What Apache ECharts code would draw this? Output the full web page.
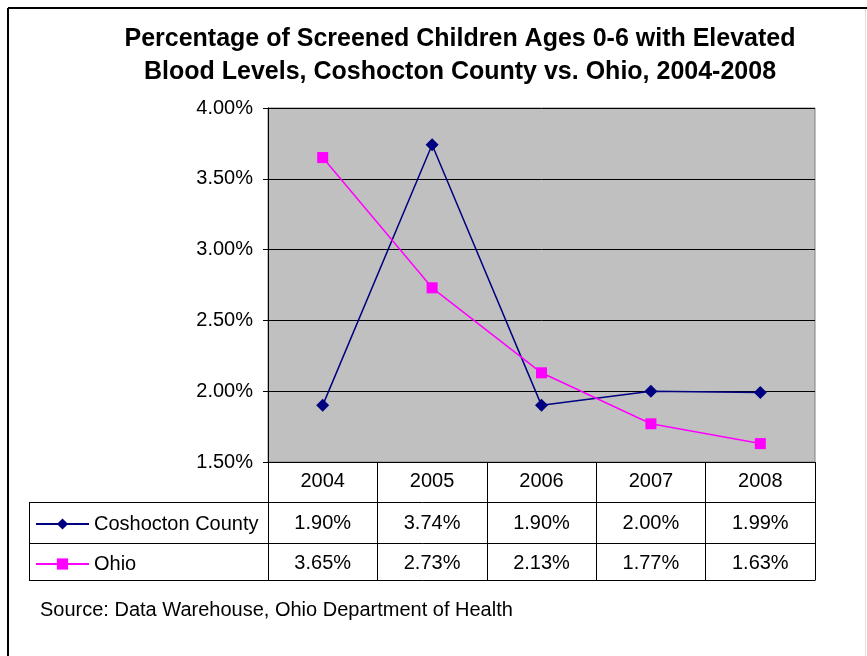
<!DOCTYPE html>
<html>
<head>
<meta charset="utf-8">
<script src="https://cdn.jsdelivr.net/npm/echarts@6/dist/echarts.min.js"></script>
<style>
html,body{margin:0;padding:0;background:#fff;}
#c{width:867px;height:656px;}
</style>
</head>
<body>
<div id="c"></div>
<script>
var years = ['2004','2005','2006','2007','2008'];
var coshocton = [1.90, 3.74, 1.90, 2.00, 1.99];
var ohio = [3.65, 2.73, 2.13, 1.77, 1.63];
var seriesNames = ['Coshocton County', 'Ohio'];
var yMin = 1.5, yMax = 4.0, yStep = 0.5;
var titleText = 'Percentage of Screened Children Ages 0-6 with Elevated\nBlood Levels, Coshocton County vs. Ohio, 2004-2008';
var sourceText = 'Source: Data Warehouse, Ohio Department of Health';

function pct(v){ return v.toFixed(2) + '%'; }
var FONT = 'Arial, "Liberation Sans", sans-serif';

var chart = echarts.init(document.getElementById('c'), null, {renderer:'canvas'});

function tableAxis(offset, arr){
  return {
    type:'category', gridIndex:0, position:'bottom', offset:offset,
    data: years, boundaryGap:true,
    axisLine:{show:false}, axisTick:{show:false}, splitLine:{show:false},
    axisLabel:{show:true, interval:0, margin:9, color:'#000', fontFamily:FONT, fontSize:20,
      formatter:function(v,i){ return pct(arr[i]); }}
  };
}

var xAxes = [
  {
    type:'category', gridIndex:0, position:'bottom', data:years, boundaryGap:true,
    axisLine:{show:true, lineStyle:{color:'#000', width:1}},
    axisTick:{show:true, length:118, interval:0, lineStyle:{color:'#000', width:1}},
    axisLabel:{show:true, interval:0, margin:9, color:'#000', fontFamily:FONT, fontSize:20},
    splitLine:{show:false}
  },
  tableAxis(42, coshocton),
  tableAxis(82, ohio)
];

var L = 29, R = 815, gridLeft = 268;
var hLines = [502, 543, 580];
var graphics = [];
hLines.forEach(function(y){
  graphics.push({type:'line', shape:{x1:L, y1:y+0.5, x2:R+0.5, y2:y+0.5}, style:{stroke:'#000', lineWidth:1}, z:10});
});
graphics.push({type:'line', shape:{x1:L+0.5, y1:502, x2:L+0.5, y2:580.5}, style:{stroke:'#000', lineWidth:1}, z:10});
// outer frame
graphics.push({type:'line', shape:{x1:8, y1:8, x2:867, y2:8}, style:{stroke:'#000', lineWidth:2}, z:10});
graphics.push({type:'line', shape:{x1:8, y1:8, x2:8, y2:656}, style:{stroke:'#000', lineWidth:2}, z:10});
graphics.push({type:'line', shape:{x1:865.5, y1:9, x2:865.5, y2:656}, style:{stroke:'#e0e0e0', lineWidth:1}, z:10});
graphics.push({type:'text', left:40, top:600, style:{text:sourceText, font:'20px ' + FONT, fill:'#000'}, z:10});

chart.setOption({
  animation:false,
  backgroundColor:'#fff',
  title:{
    text:titleText, left:455, top:18, textAlign:'center',
    textStyle:{fontFamily:FONT, fontSize:25, fontWeight:'bold', color:'#000', lineHeight:33}
  },
  legend:{
    orient:'vertical', left:30, top:509, itemWidth:53, itemHeight:14, itemGap:20,
    textStyle:{fontFamily:FONT, fontSize:20, lineHeight:20, color:'#000'},
    data:seriesNames
  },
  grid:{left:gridLeft, right:867-R, top:108, bottom:656-462, show:true, backgroundColor:'#C0C0C0', borderColor:'#808080', borderWidth:1},
  xAxis:xAxes,
  yAxis:{
    type:'value', min:yMin, max:yMax, interval:yStep,
    axisLine:{show:true, lineStyle:{color:'#000', width:1}},
    axisTick:{show:true, length:5, lineStyle:{color:'#000'}},
    axisLabel:{margin:15, color:'#000', fontFamily:FONT, fontSize:20, formatter:function(v){return pct(v);}},
    splitLine:{show:true, lineStyle:{color:'#000', width:1}}
  },
  series:[
    {name:seriesNames[0], type:'line', data:coshocton, xAxisIndex:0, symbol:'diamond', symbolSize:13,
     lineStyle:{color:'#000080', width:1.5}, itemStyle:{color:'#000080'}, z:3},
    {name:seriesNames[1], type:'line', data:ohio, xAxisIndex:0, symbol:'rect', symbolSize:11,
     lineStyle:{color:'#FF00FF', width:1.5}, itemStyle:{color:'#FF00FF'}, z:4}
  ],
  graphic:graphics
});
</script>
</body>
</html>
